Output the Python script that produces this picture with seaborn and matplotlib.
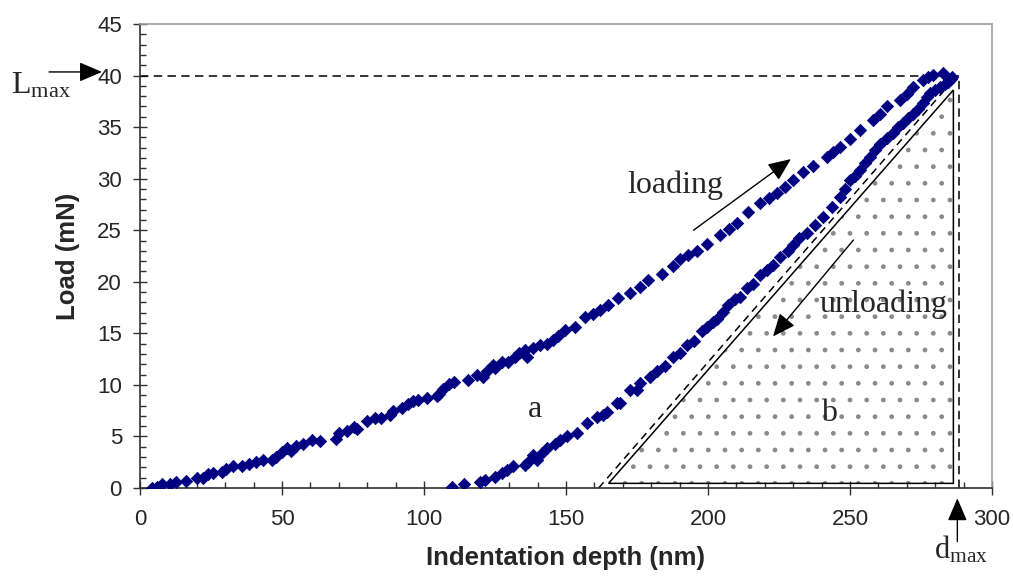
import pandas as pd
import seaborn as sns
import matplotlib.pyplot as plt
from matplotlib.patches import Polygon
from matplotlib.ticker import MultipleLocator

# loading branch: depth (nm) / load (mN)
load_depth = [4.1, 5.9, 7.6, 10.6, 12.7, 16.2, 20.2, 22.3, 24.1, 25.8, 28.8, 30.3, 32.9, 35.8,
              38.5, 40.8, 43.2, 46.4, 47.9, 49.9, 51.6, 53.1, 54.9, 57.5, 60.4, 63.4, 69.0, 70.2,
              72.8, 75.4, 76.3, 79.8, 82.7, 84.9, 88.0, 89.2, 92.1, 94.5, 96.2, 98.0, 100.9, 104.5,
              105.4, 106.8, 108.9, 110.7, 115.6, 118.5, 120.9, 122.1, 124.2, 125.0, 127.4, 129.7,
              132.0, 133.6, 135.6, 136.2, 138.5, 140.8, 143.2, 145.5, 147.3, 149.6, 153.2, 156.7,
              159.5, 162.0, 164.9, 168.4, 172.5, 176.1, 179.0, 183.7, 187.8, 190.1, 193.0, 196.0,
              199.5, 204.2, 207.5, 210.1, 214.0, 218.3, 221.5, 224.2, 227.0, 230.0, 233.5, 237.1,
              241.8, 244.0, 246.5, 250.0, 253.5, 258.2, 260.5, 262.9, 267.6, 270.0, 272.3, 275.8,
              277.5, 279.3, 282.9, 285.8]
load_force = [0.0, 0.1, 0.4, 0.4, 0.6, 0.7, 1.0, 1.0, 1.35, 1.5, 1.6, 1.8, 2.1, 2.1,
              2.3, 2.55, 2.7, 2.7, 3.0, 3.5, 3.9, 3.6, 4.1, 4.3, 4.65, 4.6, 4.8, 5.3,
              5.5, 5.95, 5.7, 6.5, 6.8, 6.8, 7.1, 7.5, 7.8, 8.1, 8.4, 8.5, 8.7, 8.9,
              9.1, 9.6, 10.1, 10.3, 10.5, 11.0, 10.8, 11.3, 11.9, 11.6, 12.2, 12.2,
              12.7, 13.1, 13.4, 12.7, 13.6, 13.9, 14.0, 14.4, 14.7, 15.3, 15.65, 16.6,
              16.9, 17.3, 17.75, 18.4, 18.9, 19.5, 20.2, 20.8, 21.5, 22.2, 22.6, 23.0,
              23.7, 24.5, 25.1, 25.7, 26.8, 27.6, 28.1, 28.6, 29.2, 29.9, 30.6, 31.2,
              32.1, 32.6, 33.1, 33.8, 34.7, 35.7, 36.3, 37.0, 37.6, 38.2, 38.9, 39.6,
              39.9, 40.05, 40.2, 39.9]

# unloading branch
unload_depth = [110.0, 114.2, 119.7, 121.5, 125.0, 127.4, 129.1, 131.5, 135.6, 136.7, 138.5,
                139.7, 141.4, 143.2, 146.1, 147.9, 150.5, 153.8, 157.3, 160.8, 163.1, 164.3,
                167.8, 169.0, 172.5, 174.9, 176.1, 179.6, 182.0, 184.9, 187.8, 190.1, 192.5,
                195.0, 197.8, 199.5, 201.9, 203.1, 205.4, 207.2, 209.5, 211.3, 213.6, 215.9,
                218.3, 220.7, 222.8, 225.4, 228.0, 230.0, 232.2, 234.7, 237.5, 240.6, 243.5,
                246.5, 248.3, 250.0, 251.8, 253.5, 255.2, 257.0, 258.8, 260.6, 263.0, 265.3,
                267.0, 268.8, 270.5, 272.3, 274.0, 275.8, 277.0, 278.2, 280.0, 281.7, 283.3,
                284.6, 285.5]
unload_force = [0.1, 0.4, 0.6, 0.8, 1.1, 1.5, 1.75, 2.1, 2.2, 2.55, 3.2,
                2.7, 3.4, 3.85, 4.3, 4.65, 5.0, 5.3, 6.3, 6.9, 7.1, 7.4,
                8.2, 8.2, 9.5, 9.5, 10.15, 10.8, 11.3, 11.8, 12.7, 13.1, 13.9,
                14.3, 15.2, 15.6, 16.1, 16.4, 17.1, 17.75, 18.3, 18.5, 19.4, 19.8,
                20.7, 21.1, 21.6, 22.4, 23.0, 23.6, 24.2, 24.7, 25.5, 26.3, 27.3,
                28.25, 29.0, 29.9, 30.3, 30.8, 31.5, 32.1, 32.8, 33.4, 33.9, 34.4,
                35.0, 35.4, 35.9, 36.3, 36.8, 37.3, 37.9, 38.3, 38.6, 38.9, 39.2,
                39.4, 39.7]

L_MAX = 40
D_MAX = 288.5
# area b (triangle under the unloading tangent) and the tangent itself
tri_depth = [165.0, 286.4, 286.4]
tri_load = [0.45, 38.6, 0.45]
tangent_depth = [161.5, 286.8]
tangent_load = [0.0, 39.7]

df = pd.concat([
    pd.DataFrame({"depth": load_depth, "load": load_force, "branch": "loading"}),
    pd.DataFrame({"depth": unload_depth, "load": unload_force, "branch": "unloading"}),
])

sns.set_style("ticks")
plt.rcParams['font.family'] = ['Liberation Sans', 'DejaVu Sans']
serif = ['Liberation Serif', 'DejaVu Serif']

fig = plt.figure(figsize=(10.13, 5.79), dpi=100)
ax = fig.add_axes([140 / 1013, 1 - 488 / 579, 852 / 1013, 464 / 579])

# dotted area b
ax.add_patch(Polygon(list(zip(tri_depth, tri_load)), closed=True, fill=False,
                     hatch='.', edgecolor='#8a8a8a', linewidth=0, zorder=1))
ax.add_patch(Polygon(list(zip(tri_depth, tri_load)), closed=True, fill=False,
                     edgecolor='black', linewidth=1.1, zorder=2))
ax.plot(tangent_depth, tangent_load, color='black', lw=1.1, dashes=(5, 3.5), zorder=2)

# Lmax / dmax guide lines
ax.plot([0, D_MAX], [L_MAX, L_MAX], color='black', lw=1.1, dashes=(5.5, 3.5), zorder=2)
ax.plot([D_MAX, D_MAX], [0, L_MAX], color='black', lw=1.1, dashes=(5.5, 3.5), zorder=2)

sns.scatterplot(data=df, x="depth", y="load", marker='D', color='#000080',
                edgecolor='#000080', s=40, linewidth=0.5, legend=False, ax=ax, zorder=3)

arrow = dict(arrowstyle='-|>,head_length=0.7,head_width=0.3', mutation_scale=20,
             color='black', lw=1.0, shrinkA=0, shrinkB=0)
ax.annotate('', xy=(229.2, 31.9), xytext=(194.9, 25.0), arrowprops=arrow)
ax.annotate('', xy=(222.9, 14.7), xytext=(251.2, 24.05), arrowprops=arrow)
ax.annotate('', xy=(-13.4, 40.35), xytext=(-32.0, 40.35), arrowprops=arrow,
            annotation_clip=False)
ax.annotate('', xy=(287.8, -1.0), xytext=(287.8, -5.2), arrowprops=arrow,
            annotation_clip=False)

ax.text(188.5, 28.6, 'loading', family=serif, fontsize=23, ha='center', va='baseline')
ax.text(262.0, 17.1, 'unloading', family=serif, fontsize=23, ha='center', va='baseline')
ax.text(139.1, 6.86, 'a', family=serif, fontsize=23, ha='center', va='baseline')
ax.text(242.7, 6.53, 'b', family=serif, fontsize=23, ha='center', va='baseline')
ax.text(-45.4, 38.3, r'$\mathregular{L_{max}}$', family=serif, fontsize=23,
        ha='left', va='baseline', clip_on=False)
ax.text(279.7, -6.8, r'$\mathregular{d_{max}}$', family=serif, fontsize=22,
        ha='left', va='baseline', clip_on=False)

ax.set_xlim(0, 300)
ax.set_ylim(0, 45)
ax.xaxis.set_major_locator(MultipleLocator(50))
ax.xaxis.set_minor_locator(MultipleLocator(10))
ax.yaxis.set_major_locator(MultipleLocator(5))
ax.yaxis.set_minor_locator(MultipleLocator(1))
ax.tick_params(which='major', direction='inout', length=10, width=1, pad=8,
               labelsize=16, color='#303030')
ax.tick_params(axis='x', which='major', pad=10)
ax.tick_params(which='minor', direction='in', length=4.3, width=1, color='#303030')

ax.set_xlabel('Indentation depth (nm)', fontsize=18.5, fontweight='bold')
ax.set_ylabel('Load (mN)', fontsize=18.5, fontweight='bold')
ax.xaxis.set_label_coords(0.5, -0.125)
ax.yaxis.set_label_coords(-0.07, 0.5)

for side in ['left', 'bottom']:
    ax.spines[side].set_color('#303030')
    ax.spines[side].set_linewidth(1.2)
for side in ['top', 'right']:
    ax.spines[side].set_color('#a0a0a0')
    ax.spines[side].set_linewidth(1.2)

fig.savefig('out.png', dpi=100, facecolor='white')
